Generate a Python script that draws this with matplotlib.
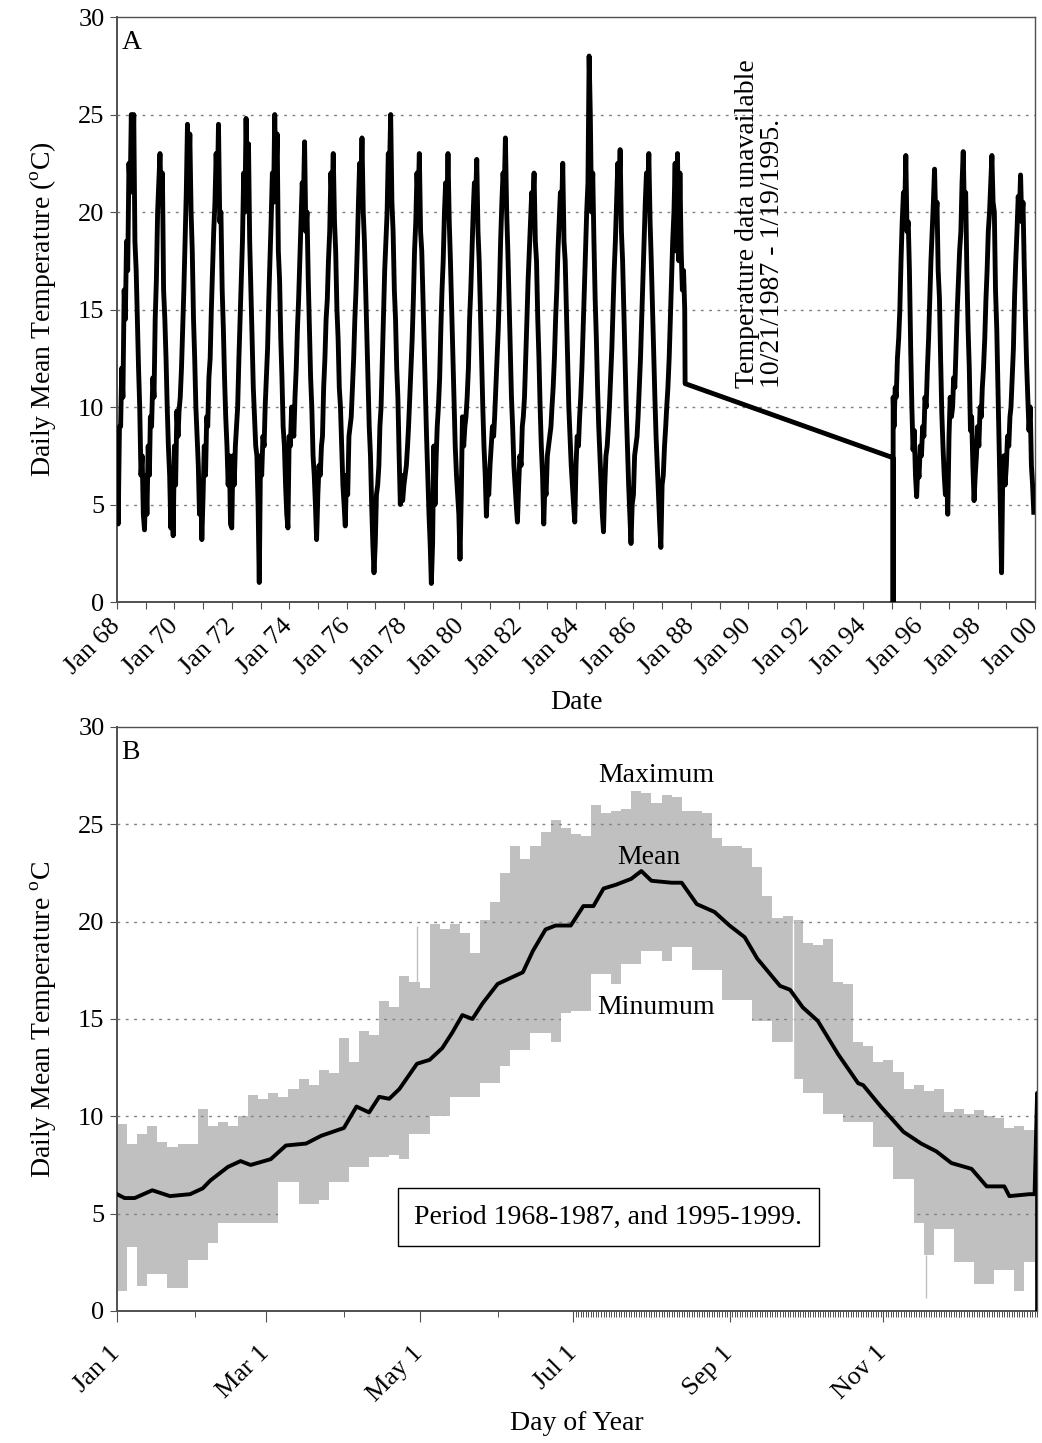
import datetime as dt
import matplotlib
matplotlib.use("Agg")
import matplotlib.pyplot as plt

plt.rcParams['font.family'] = ['Liberation Serif', 'DejaVu Serif']
plt.rcParams['mathtext.fontset'] = 'custom'
plt.rcParams['mathtext.rm'] = 'Liberation Serif'

y1968 = [8.0, 4.0, 9.0, 9.0, 12.0, 10.5, 16.0, 14.5, 18.5, 17.0, 22.5, 21.0, 25.0, 21.5, 25.0, 18.5, 17.0, 14.5, 12.0, 10.0, 6.5, 7.5, 4.5, 3.7]
y1969 = [6.5, 4.5, 8.0, 6.5, 9.5, 9.0, 11.5, 10.5, 14.5, 16.5, 20.0, 21.5, 23.0, 20.5, 22.0, 16.0, 14.5, 12.5, 10.0, 8.0, 6.5, 3.8, 6.0, 3.4]
y1970 = [8.0, 6.0, 9.8, 8.5, 9.8, 10.5, 12.0, 14.0, 16.0, 18.5, 21.0, 24.5, 21.5, 24.0, 20.0, 18.0, 14.5, 12.5, 10.0, 8.5, 7.0, 4.5, 6.0, 3.2]
y1971 = [5.5, 8.0, 6.5, 9.5, 9.0, 11.5, 12.5, 15.0, 17.0, 19.0, 20.5, 23.0, 21.0, 24.5, 19.5, 20.0, 16.0, 14.0, 11.5, 9.5, 8.0, 6.0, 7.5, 4.0]
y1972 = [3.8, 7.5, 6.0, 8.0, 9.0, 10.0, 12.5, 14.5, 16.5, 18.5, 22.0, 20.0, 24.8, 21.5, 23.5, 18.5, 16.0, 13.5, 11.0, 9.5, 8.0, 7.5, 5.0, 1.0]
y1973 = [7.5, 6.5, 8.5, 8.0, 10.0, 11.5, 13.0, 15.5, 17.5, 19.5, 22.0, 20.5, 25.0, 21.5, 24.0, 18.0, 16.5, 13.5, 11.5, 9.0, 8.0, 6.0, 4.5, 3.8]
y1974 = [8.5, 8.0, 10.0, 9.0, 8.5, 10.5, 12.0, 14.0, 15.5, 17.5, 19.5, 21.5, 20.5, 23.6, 19.0, 20.0, 16.5, 14.0, 11.5, 10.0, 7.5, 6.5, 5.0, 3.2]
y1975 = [5.5, 7.0, 6.5, 8.0, 8.5, 11.0, 12.5, 14.5, 15.5, 17.5, 19.0, 22.0, 20.5, 23.0, 19.5, 18.0, 15.0, 13.5, 11.0, 10.0, 8.0, 6.0, 5.0, 3.9]
y1976 = [6.5, 5.5, 8.5, 9.0, 9.5, 11.0, 12.5, 14.5, 16.0, 18.0, 20.5, 22.5, 21.0, 23.8, 20.0, 18.5, 16.0, 13.5, 11.5, 9.0, 7.5, 5.0, 3.0, 1.5]
y1977 = [3.0, 5.5, 6.0, 7.0, 9.0, 10.0, 12.5, 15.0, 17.0, 18.5, 20.0, 23.0, 22.0, 25.0, 20.5, 19.0, 16.0, 14.5, 12.0, 10.5, 7.5, 5.0, 6.5, 5.2]
y1978 = [6.0, 6.5, 7.0, 8.0, 9.0, 10.5, 12.0, 13.5, 15.5, 18.0, 19.5, 22.0, 20.5, 23.0, 19.0, 18.0, 15.5, 13.0, 11.0, 8.5, 6.5, 4.5, 3.0, 0.95]
y1979 = [3.0, 8.0, 5.0, 7.5, 9.0, 10.0, 11.5, 14.0, 16.0, 17.5, 20.0, 21.5, 20.0, 23.0, 19.5, 17.5, 15.0, 12.5, 10.5, 8.0, 6.5, 5.5, 4.5, 2.2]
y1980 = [5.5, 9.5, 8.0, 9.0, 9.5, 10.5, 12.0, 14.5, 16.0, 18.0, 20.0, 21.5, 20.5, 22.7, 19.0, 17.5, 15.0, 12.5, 10.0, 8.0, 6.5, 4.4, 6.0, 5.5]
y1981 = [7.0, 8.0, 9.0, 8.5, 9.5, 11.0, 12.5, 14.0, 16.0, 18.5, 20.5, 22.0, 21.0, 23.8, 20.0, 18.0, 15.5, 13.0, 10.5, 9.0, 7.0, 6.0, 5.0, 4.1]
y1982 = [6.0, 7.5, 7.0, 9.0, 9.5, 10.5, 12.5, 14.5, 16.5, 18.0, 19.5, 21.0, 20.5, 22.0, 18.5, 17.5, 14.5, 12.5, 10.0, 8.0, 6.5, 4.0, 6.0, 5.5]
y1983 = [7.5, 8.0, 8.5, 9.0, 10.0, 11.0, 12.5, 14.5, 16.0, 18.0, 19.5, 21.0, 20.0, 22.5, 18.5, 17.5, 15.0, 12.5, 10.0, 8.5, 7.0, 6.0, 5.0, 4.1]
y1984 = [7.0, 8.5, 8.0, 9.5, 10.5, 12.0, 14.0, 16.0, 18.0, 20.0, 21.5, 28.0, 25.0, 20.0, 22.0, 18.5, 15.5, 13.5, 11.0, 9.0, 7.5, 6.0, 4.5, 3.6]
y1985 = [6.0, 7.5, 8.0, 9.0, 10.0, 11.5, 13.0, 15.0, 17.0, 18.5, 20.5, 22.5, 21.0, 23.2, 19.0, 17.5, 15.0, 12.5, 10.0, 8.0, 6.0, 4.5, 3.0, 5.0]
y1986 = [5.5, 7.5, 8.0, 8.5, 9.5, 11.0, 12.5, 14.5, 16.5, 18.5, 20.5, 22.0, 21.0, 23.0, 19.5, 17.5, 15.0, 12.5, 10.5, 8.5, 7.0, 5.5, 4.0, 2.8]
y1987 = [6.0, 6.5, 8.0, 9.0, 10.0, 11.0, 12.5, 14.5, 16.5, 18.5, 20.0, 22.5, 18.0, 23.0, 17.5, 22.0, 18.0, 16.0, 17.0, 15.0]  # Jan 1 - Oct 16
gap_dates = [dt.datetime(1987, 10, 21), dt.datetime(1995, 1, 19), dt.datetime(1995, 1, 20), dt.datetime(1995, 1, 21)]
gap_temps = [11.2, 7.4, 0.0, 10.5]
y1995 = [9.0, 11.0, 10.5, 12.5, 13.5, 15.0, 17.5, 19.5, 21.0, 20.0, 22.9, 19.0, 19.5, 17.0, 13.0, 10.0, 7.8, 8.8, 6.5, 5.4, 7.0, 6.4]  # Feb 1 - Dec 16
y1996 = [8.0, 7.5, 9.0, 8.5, 10.5, 10.0, 12.0, 13.5, 15.5, 17.5, 19.0, 20.5, 22.2, 19.5, 20.5, 17.0, 15.6, 12.5, 9.7, 8.0, 6.5, 5.5, 7.0, 4.5]
y1997 = [8.5, 10.5, 9.5, 10.0, 11.5, 11.0, 13.0, 15.0, 16.5, 18.0, 19.0, 21.5, 23.1, 20.0, 21.0, 17.0, 14.0, 12.0, 8.8, 9.5, 7.0, 5.2, 6.5, 7.5]
y1998 = [9.0, 8.0, 10.0, 9.5, 11.0, 12.0, 13.5, 15.5, 17.0, 19.0, 20.0, 21.5, 22.9, 20.5, 20.0, 16.0, 14.0, 11.0, 8.0, 5.0, 1.5, 6.5, 7.5, 6.0]
y1999 = [7.0, 8.5, 8.0, 9.5, 10.0, 11.5, 13.0, 15.7, 17.5, 19.0, 20.8, 20.0, 21.9, 19.5, 20.5, 17.4, 14.5, 12.2, 10.5, 8.8, 10.0, 7.0, 6.0, 4.6]

# ---- Panel B: envelope (every 4th day of year) and mean by day of year
band_days = list(range(1, 366, 4)) + [366]
t_max = [9.6, 8.6, 9.1, 9.5, 8.7, 8.4, 8.6, 8.6, 10.4, 9.5,
         9.7, 9.5, 10.0, 11.1, 10.9, 11.2, 11.0, 11.4, 11.9, 11.6,
         12.4, 12.2, 14.0, 12.8, 14.4, 14.2, 15.9, 15.6, 17.2, 16.9,
         16.6, 19.9, 19.6, 19.9, 19.4, 18.4, 20.1, 21.0, 22.5, 23.9,
         23.2, 23.9, 24.6, 25.2, 24.8, 24.5, 24.4, 26.0, 25.6, 25.7,
         25.8, 26.7, 26.6, 26.1, 26.5, 26.4, 25.7, 25.7, 25.6, 24.3,
         23.9, 23.9, 23.8, 22.8, 21.3, 20.2, 20.3, 20.1, 18.9, 18.8,
         19.1, 16.9, 16.8, 13.8, 13.6, 12.8, 12.9, 12.3, 11.4, 11.6,
         11.3, 11.4, 10.2, 10.4, 10.1, 10.3, 10.0, 9.9, 9.4, 9.5,
         9.3, 9.4, 9.5]
t_min = [1.0, 3.3, 1.3, 1.9, 1.9, 1.2, 1.2, 2.6, 2.6, 3.5,
         4.5, 4.5, 4.5, 4.5, 4.5, 4.5, 6.6, 6.6, 5.5, 5.5,
         5.7, 6.6, 6.6, 7.4, 7.4, 7.9, 7.9, 8.0, 7.8, 9.1,
         9.1, 10.0, 10.0, 11.0, 11.0, 11.0, 11.7, 11.7, 12.6, 13.4,
         13.4, 14.3, 14.3, 13.8, 15.3, 15.4, 15.4, 17.3, 17.3, 16.8,
         17.8, 17.8, 18.5, 18.5, 18.0, 18.7, 18.7, 17.5, 17.5, 17.5,
         16.0, 16.0, 16.0, 14.9, 14.9, 13.8, 13.8, 11.9, 11.2, 11.2,
         10.1, 10.1, 9.7, 9.7, 9.7, 8.4, 8.4, 6.8, 6.8, 4.5,
         2.9, 4.2, 4.2, 2.5, 2.5, 1.4, 1.4, 2.1, 2.1, 1.0,
         2.5, 1.6, 1.6]
spike_days = [120, 322]
spike_lo = [16.5, 0.65]
spike_hi = [19.8, 2.9]
missing_day = 269
missing_lo, missing_hi = 11.9, 20.1
mean_days = [1, 4, 8, 15, 22, 30, 35, 38, 45, 50, 54, 62, 68, 76, 82, 91, 96, 101, 105, 109,
             113, 120, 125, 130, 134, 138, 142, 146, 152, 157, 162, 166, 171, 175, 181, 186, 190, 194, 199, 205,
             209, 213, 221, 225, 231, 238, 244, 250, 255, 264, 268, 273, 279, 287, 295, 297, 304, 313, 320, 326,
             332, 340, 346, 353, 355, 363, 365, 366, 366]
t_mean = [6.0, 5.8, 5.8, 6.2, 5.9, 6.0, 6.3, 6.7, 7.4, 7.7, 7.5, 7.8, 8.5, 8.6, 9.0, 9.4, 10.5, 10.2, 11.0, 10.9,
          11.4, 12.7, 12.9, 13.5, 14.3, 15.2, 15.0, 15.8, 16.8, 17.1, 17.4, 18.5, 19.6, 19.8, 19.8, 20.8, 20.8, 21.7, 21.9, 22.2,
          22.6, 22.1, 22.0, 22.0, 20.9, 20.5, 19.8, 19.2, 18.1, 16.7, 16.5, 15.6, 14.9, 13.2, 11.7, 11.6, 10.5, 9.2, 8.6, 8.2,
          7.6, 7.3, 6.4, 6.4, 5.9, 6.0, 6.0, 11.2, 0.0]

month_ticks = [1, 60, 121, 182, 244, 305]
month_labels = ['Jan 1', 'Mar 1', 'May 1', 'Jul 1', 'Sep 1', 'Nov 1']
month_minor = [32, 91, 152, 213, 274, 335]
grid_levels = [5, 10, 15, 20, 25]


def half_months(year, first_month=1, last_month=12):
    return [dt.datetime(year, m, d) for m in range(first_month, last_month + 1) for d in (1, 16)]


dates, temps = [], []
for yr, vals in [(1968, y1968), (1969, y1969), (1970, y1970), (1971, y1971), (1972, y1972),
                 (1973, y1973), (1974, y1974), (1975, y1975), (1976, y1976), (1977, y1977),
                 (1978, y1978), (1979, y1979), (1980, y1980), (1981, y1981), (1982, y1982),
                 (1983, y1983), (1984, y1984), (1985, y1985), (1986, y1986)]:
    dates += half_months(yr)
    temps += vals
dates += half_months(1987, 1, 10)
temps += y1987
dates += gap_dates
temps += gap_temps
dates += half_months(1995, 2, 12)
temps += y1995
for yr, vals in [(1996, y1996), (1997, y1997), (1998, y1998), (1999, y1999)]:
    dates += half_months(yr)
    temps += vals

fs_tick = 19
fs_lab = 20
spine_col = '#505050'

fig = plt.figure(figsize=(10.42, 14.43), dpi=100)
ax1 = fig.add_axes([0.1123, 0.5828, 0.881, 0.4054])
ax2 = fig.add_axes([0.1123, 0.0915, 0.883, 0.4047])

for ax in (ax1, ax2):
    for lvl in grid_levels:
        ax.axhline(lvl, color='#808080', lw=1.0, ls=(0, (2, 4)), zorder=2)
    for s in ax.spines.values():
        s.set_color(spine_col)
        s.set_linewidth(1.0)
    ax.spines['left'].set_linewidth(1.4)
    ax.spines['bottom'].set_linewidth(1.4)
    ax.set_ylim(0, 30)
    ax.set_yticks([0, 5, 10, 15, 20, 25, 30])
    ax.tick_params(axis='y', direction='out', length=5, color=spine_col, labelsize=fs_tick, pad=4)

# Panel A
ax1.plot(dates, temps, color='black', lw=3.5, zorder=3)
ax1.set_xlim(dt.datetime(1968, 1, 1), dt.datetime(2000, 1, 1))
year_ticks = [dt.datetime(y, 1, 1) for y in range(1968, 2001)]
year_labels = ['Jan %02d' % (y % 100) if y % 2 == 0 else '' for y in range(1968, 2001)]
ax1.set_xticks(year_ticks)
ax1.set_xticklabels(year_labels, rotation=45, ha='right', va='center', rotation_mode='anchor', fontsize=fs_tick)
ax1.tick_params(axis='x', direction='out', length=5, color=spine_col, pad=10)
ax1.set_xlabel('Date', fontsize=fs_lab, labelpad=8)
ax1.set_ylabel('Daily Mean Temperature ($^{\\rm o}$C)', fontsize=fs_lab, labelpad=14)
ax1.text(0.005, 0.978, 'A', transform=ax1.transAxes, fontsize=fs_lab, va='top', ha='left')
ax1.text(dt.datetime(1990, 6, 1), 11.0,
         'Temperature data unavailable\n10/21/1987 - 1/19/1995.',
         rotation=90, ha='center', va='bottom', multialignment='left',
         fontsize=fs_lab, linespacing=1.0)

# Panel B: gray max area, gridlines, then the white area under the minimum hides them
ax2.fill_between(band_days, 0, t_max, step='post', color='#c0c0c0', lw=0, zorder=1)
ax2.vlines(spike_days[:1], spike_lo[:1], spike_hi[:1], color='#c0c0c0', lw=1.0, zorder=1)
ax2.fill_between(band_days, 0, t_min, step='post', color='white', lw=0, zorder=2.5)
ax2.vlines(spike_days[1:], spike_lo[1:], spike_hi[1:], color='#c0c0c0', lw=1.0, zorder=2.6)
ax2.vlines([missing_day], [missing_lo], [missing_hi], color='white', lw=1.0, zorder=2.6)
ax2.plot(mean_days, t_mean, color='black', lw=2.8, zorder=3)
ax2.set_xlim(1, 366)
ax2.set_xticks(month_ticks)
ax2.set_xticklabels(month_labels, rotation=45, ha='right', va='center', rotation_mode='anchor', fontsize=fs_tick)
daily_minor = list(range(month_ticks[3], 367))
ax2.set_xticks(month_minor + daily_minor, minor=True)
ax2.tick_params(axis='x', which='major', direction='out', length=8, color=spine_col, pad=20)
ax2.tick_params(axis='x', which='minor', direction='out', length=4, width=0.7, color=spine_col)
ax2.set_xlabel('Day of Year', fontsize=fs_lab, labelpad=4)
ax2.set_ylabel('Daily Mean Temperature $^{\\rm o}$C', fontsize=fs_lab, labelpad=14)
ax2.text(0.005, 0.978, 'B', transform=ax2.transAxes, fontsize=fs_lab, va='top', ha='left')
ax2.text(215, 27.5, 'Maximum', fontsize=fs_lab, ha='center', va='center', zorder=4)
ax2.text(212, 23.3, 'Mean', fontsize=fs_lab, ha='center', va='center', zorder=4)
ax2.text(215, 15.6, 'Minumum', fontsize=fs_lab, ha='center', va='center', zorder=4)
ax2.text(0.534, 0.161, 'Period 1968-1987, and 1995-1999.', transform=ax2.transAxes,
         fontsize=fs_lab, ha='center', va='center', zorder=4,
         bbox=dict(boxstyle='square,pad=0.6', fc='white', ec='black', lw=1.0))

fig.savefig('out.png', dpi=100)
